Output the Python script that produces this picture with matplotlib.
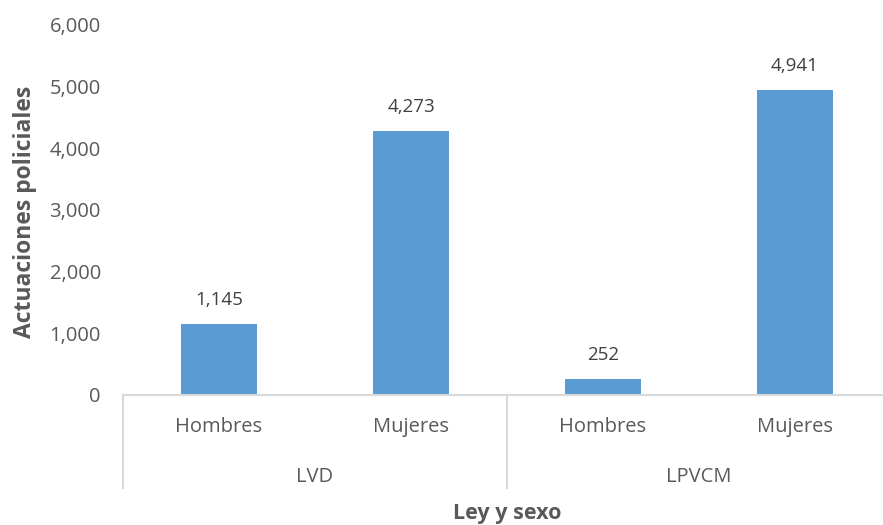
import matplotlib.pyplot as plt
import matplotlib.transforms as mtransforms
import numpy as np

plt.rcParams['font.family'] = ['Open Sans', 'DejaVu Sans']

sexes = ["Hombres", "Mujeres", "Hombres", "Mujeres"]
laws = ["LVD", "LPVCM"]
values = [1145, 4273, 252, 4941]
yticks = [0, 1000, 2000, 3000, 4000, 5000, 6000]

bar_color = "#5B9BD5"
text_color = "#595959"
line_color = "#D9D9D9"


def main():
    fig = plt.figure(figsize=(8.83, 5.25), dpi=100)
    ax = fig.add_axes([123 / 883, 1 - 395 / 525, 760 / 883, 370 / 525])

    x = np.arange(len(values))
    bars = ax.bar(x, values, width=0.4, color=bar_color, zorder=2)
    for b, v in zip(bars, values):
        ax.annotate(f"{v:,}", (b.get_x() + b.get_width() / 2, v),
                    xytext=(0, 11), textcoords="offset points",
                    ha="center", va="bottom", fontsize=13.5, color="#404040")

    ax.set_xlim(-0.5, 3.458)
    ax.set_ylim(0, 6000)
    ax.set_yticks(yticks)
    ax.set_yticklabels([f"{t:,}" for t in yticks])
    ax.tick_params(axis="y", length=0, pad=16, labelsize=14.5, labelcolor=text_color)
    ax.set_xticks([])

    for s in ["top", "right", "left"]:
        ax.spines[s].set_visible(False)
    ax.spines["bottom"].set_color(line_color)
    ax.spines["bottom"].set_linewidth(1.5)

    trans = mtransforms.blended_transform_factory(ax.transData, ax.transAxes)
    px = 1 / 370  # one pixel in axes fraction (vertical)

    # subcategory labels
    for xi, s in zip(x, sexes):
        ax.text(xi, -32 * px, s, transform=trans, ha="center", va="center",
                fontsize=14.5, color=text_color, clip_on=False)
    # group labels
    for gi, law in enumerate(laws):
        ax.text(2 * gi + 0.5, -82 * px, law, transform=trans, ha="center",
                va="center", fontsize=14.5, color=text_color, clip_on=False)
    # separator lines
    for sx in [-0.5, 1.5, 3.5]:
        ax.plot([sx, sx], [0, -93 * px], transform=trans, color=line_color,
                lw=1.5, clip_on=False)

    ax.text(1.5, -118 * px, "Ley y sexo", transform=trans, ha="center",
            va="center", fontsize=15.5, fontweight="bold", color=text_color,
            clip_on=False)
    fig.text(25 / 883, 1 - 212 / 525, "Actuaciones policiales", rotation=90,
             ha="center", va="center", fontsize=16.5, fontweight="bold",
             color=text_color)

    fig.savefig("out.png", dpi=100)


if __name__ == '__main__':
    main()
